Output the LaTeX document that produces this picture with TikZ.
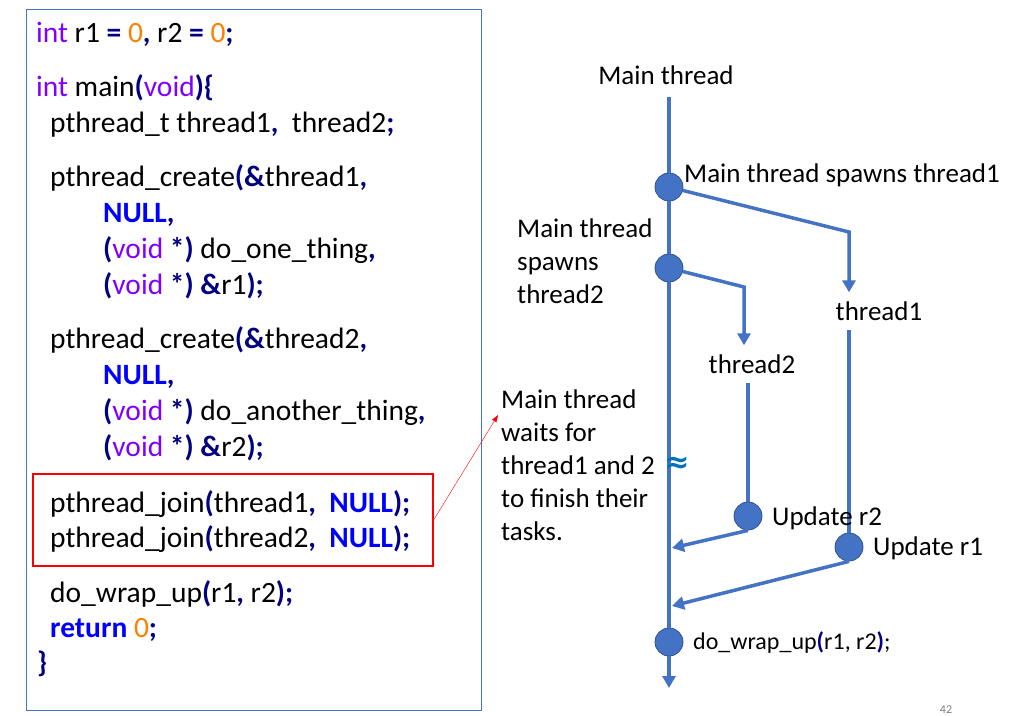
\documentclass[tikz,border=0pt]{standalone}
\usepackage{fontspec}
\setmainfont{Carlito}
\newfontfamily\symfont{DejaVu Sans}
\usetikzlibrary{arrows.meta}

\definecolor{kwpurple}{HTML}{8000FF}
\definecolor{numorange}{HTML}{FF8000}
\definecolor{punnavy}{HTML}{000080}
\definecolor{nullblue}{HTML}{0000FF}
\definecolor{flowblue}{HTML}{4472C4}
\definecolor{ringblue}{HTML}{2F528F}
\definecolor{breakblue}{HTML}{0070C0}

\newcommand\kw[1]{\textcolor{kwpurple}{#1}}
\newcommand\nm[1]{\textcolor{numorange}{#1}}
\newcommand\pn[1]{\textcolor{punnavy}{\bfseries #1}}
\newcommand\nul{\textcolor{nullblue}{\bfseries NULL}}

\begin{document}
\begin{tikzpicture}[
  x=1pt, y=-1pt,
  code/.style    = {anchor=base west, inner sep=0pt,
                    font=\fontsize{29.5}{36}\selectfont},
  codebox/.style = {draw=flowblue, thin},
  joinbox/.style = {draw=red, line width=1.2pt, inner sep=0pt,
                    minimum width=400pt, minimum height=92pt},
  link/.style    = {red, thin, -{Triangle[length=7pt,width=5pt]}},
  flow/.style    = {flowblue, line width=3.5pt},
  tip/.style     = {-{Triangle[length=12pt,width=13pt]}},
  dot/.style     = {circle, fill=flowblue, draw=ringblue, line width=0.8pt,
                    minimum size=28pt, inner sep=0pt},
  lbl/.style     = {inner sep=0pt, font=\fontsize{27}{33}\selectfont},
  thr/.style     = {lbl, inner ysep=9pt},
  note/.style    = {lbl, anchor=west, align=left},
]
  \useasboundingbox (0,0) rectangle (1025,715);

  % the code listing
  \draw[codebox] (26,9) rectangle (481,710);
  \node[joinbox] (join) at (233,520) {};

  \node[code] (l1)  at (36,42)  {\kw{int} r1 \pn{=} \nm{0}\pn{,} r2 \pn{=} \nm{0}\pn{;}};
  \node[code] (l2)  at (36,96)  {\kw{int} main\pn{(}\kw{void}\pn{)\{}};
  \node[code] (l3)  at (50,132) {pthread\_t thread1\pn{,}\ \ thread2\pn{;}};
  \node[code] (l4)  at (50,186) {pthread\_create\pn{(\&}thread1\pn{,}};
  \node[code] (l5)  at (103,222) {\nul\pn{,}};
  \node[code] (l6)  at (103,258) {\pn{(}\kw{void} \pn{*)} do\_one\_thing\pn{,}};
  \node[code] (l7)  at (103,294) {\pn{(}\kw{void} \pn{*)} \pn{\&}r1\pn{);}};
  \node[code] (l8)  at (50,348) {pthread\_create\pn{(\&}thread2\pn{,}};
  \node[code] (l9)  at (103,384) {\nul\pn{,}};
  \node[code] (l10) at (103,420) {\pn{(}\kw{void} \pn{*)} do\_another\_thing\pn{,}};
  \node[code] (l11) at (103,456) {\pn{(}\kw{void} \pn{*)} \pn{\&}r2\pn{);}};
  \node[code] (l12) at (50,512) {pthread\_join\pn{(}thread1\pn{,}\ \ \nul\pn{);}};
  \node[code] (l13) at (50,547) {pthread\_join\pn{(}thread2\pn{,}\ \ \nul\pn{);}};
  \node[code] (l14) at (50,602) {do\_wrap\_up\pn{(}r1\pn{,} r2\pn{);}};
  \node[code] (l15) at (50,637) {\textcolor{nullblue}{\bfseries return} \nm{0}\pn{;}};
  \node[code] (l16) at (37,672) {\pn{\}}};

  % the threads
  \node[lbl] (mt) at (666,75) {Main thread};
  \coordinate (top) at (669,97);
  \node[dot] (sp1) at (669,187) {};
  \node[dot] (sp2) at (669,268) {};
  \node[dot] (wrap) at (669,642) {};
  \coordinate (bot) at (669,688);
  \coordinate (j2) at (672,548);
  \coordinate (j1) at (672,606);

  \coordinate (b1) at (849,232);
  \coordinate (b2) at (744,287);
  \node[thr] (t1) at (879,311) {thread1};
  \node[thr] (t2) at (752,364) {thread2};
  \node[dot] (upd2) at (748,516) {};
  \node[dot] (upd1) at (849,547) {};

  \draw[flow] (top) -- (sp1) -- (sp2) -- (wrap);
  \draw[flow,tip] (wrap) -- (bot);
  \draw[flow,tip] (sp1) -- (b1) -- (t1.north -| b1);
  \draw[flow] (t1.south -| b1) -- (upd1);
  \draw[flow,tip] (upd1.south) -- (j1);
  \draw[flow,tip] (sp2) -- (b2) -- (t2.north -| b2);
  \draw[flow] (t2.south -| upd2) -- (upd2);
  \draw[flow,tip] (upd2.south) -- (j2);

  \node[note] (sp1lbl) at (684,175) {Main thread spawns thread1};
  \node[note] (sp2lbl) at (517,261) {Main thread\\spawns\\thread2};
  \node[note] (wait) at (501,465) {Main thread\\waits for\\thread1 and 2\\to finish their\\tasks.};
  \node[inner sep=0pt, text=breakblue, font=\symfont\bfseries\fontsize{30}{30}\selectfont] (gap) at (677,465) {≈};
  \node[note] (u2lbl) at (772,518) {Update r2};
  \node[note] (u1lbl) at (873,548) {Update r1};
  \node[note, font=\fontsize{24}{28}\selectfont] (wraplbl) at (693,643)
    {do\_wrap\_up\pn{(}r1, r2\pn{)};};

  \coordinate (waitpt) at (498,415);
  \draw[link] (join.east) -- (waitpt);

  \node[text=gray, font=\fontsize{12}{14}\selectfont] (page) at (946,710) {42};
\end{tikzpicture}
\end{document}
